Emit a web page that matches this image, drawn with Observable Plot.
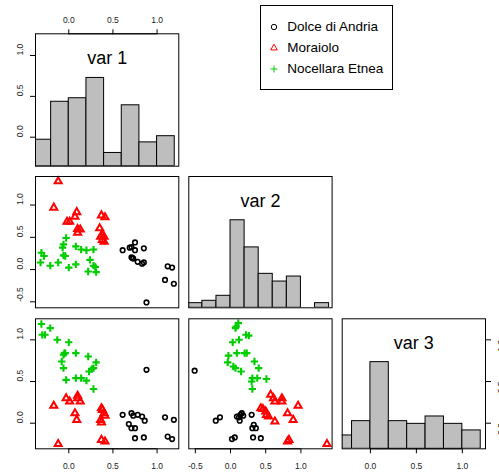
<!DOCTYPE html>
<html><head><meta charset="utf-8">
<script src="https://cdn.jsdelivr.net/npm/d3@7"></script>
<script src="https://cdn.jsdelivr.net/npm/@observablehq/plot@0.6"></script>
<style>
body{margin:0;background:#fff;}
#chart{position:relative;width:499px;height:473px;overflow:hidden;background:#fff;font-family:"Liberation Sans",Arial,Helvetica,sans-serif;}
#chart > svg{position:absolute;left:0;top:0;}
.legend{position:absolute;left:260px;top:5px;width:133px;height:85px;border:1px solid #000;box-sizing:border-box;}
.legend .row{position:absolute;left:0;height:20px;width:130px;}
.legend .row svg{position:absolute;left:8px;top:5px;}
.legend .row span{position:absolute;left:26.3px;top:0;line-height:20px;font-size:13.5px;color:#000;white-space:nowrap;}
</style></head><body><div id="chart"></div>
<script>
// ---------- data ----------
const varNames = ["var 1", "var 2", "var 3"];
const varieties = ["Dolce di Andria", "Moraiolo", "Nocellara Etnea"];
const colors = ["#000000", "#FF0000", "#00CD00"];
const symbols = ["circle", "triangle", "plus"];

// axis ranges (data units)
const var1X = [-0.377, 1.246], var1Y = [-0.355, 1.266];
const var2Range = [-0.593, 1.443];
const var3Range = [-0.307, 1.252];

const ticks1 = [0, 0.5, 1.0];
const ticks2 = [-0.5, 0, 0.5, 1.0];
const ticks3 = [0, 0.5, 1.0];

// histograms (bar height = count / max count)
const hist1Breaks = [-0.4, -0.2, 0, 0.2, 0.4, 0.6, 0.8, 1.0, 1.2];
const hist1Heights = [0.30, 0.73, 0.77, 1.0, 0.15, 0.69, 0.27, 0.34];
const hist2Breaks = [-0.6, -0.4, -0.2, 0, 0.2, 0.4, 0.6, 0.8, 1.0, 1.2, 1.4];
const hist2Heights = [0.053, 0.08, 0.137, 1.0, 0.69, 0.388, 0.30, 0.357, 0, 0.053];
const hist3Breaks = [-0.4, -0.2, 0, 0.2, 0.4, 0.6, 0.8, 1.0, 1.2];
const hist3Heights = [0.154, 0.319, 1.0, 0.319, 0.288, 0.373, 0.288, 0.212];

// var 1 (x) vs var 2 (y)
const dolce12 = [[0.61,0.30],[0.69,0.34],[0.71,0.35],[0.75,0.42],[0.75,0.30],[0.85,0.33],[0.71,0.19],[0.72,0.18],[0.73,0.17],[0.78,0.12],[0.83,0.09],[0.85,0.11],[1.12,0.05],[1.17,0.03],[1.09,-0.16],[1.19,-0.22],[0.88,-0.51]];
const moraiolo12 = [[-0.12,1.37],[-0.17,0.96],[0.09,0.89],[0.07,0.82],[-0.02,0.74],[0.01,0.74],[0.37,0.84],[0.41,0.81],[0.10,0.63],[0.13,0.62],[0.10,0.57],[0.35,0.64],[0.38,0.54],[0.36,0.51],[0.40,0.51],[0.38,0.46],[0.40,0.43]];
const nocellara12 = [[-0.03,0.49],[-0.06,0.39],[-0.07,0.34],[0.08,0.36],[0.14,0.31],[0.20,0.30],[0.28,0.31],[-0.31,0.26],[-0.28,0.21],[-0.06,0.22],[-0.04,0.21],[-0.32,0.11],[-0.21,0.06],[-0.12,0.11],[0.00,0.03],[0.08,0.08],[0.24,0.15],[0.28,0.06],[0.30,0.04],[0.22,-0.03],[0.31,-0.04]];

// var 1 (x) vs var 3 (y)
const dolce13 = [[0.88,0.64],[0.61,0.10],[0.71,0.12],[0.73,0.09],[0.78,0.10],[0.83,0.08],[0.86,0.03],[0.68,-0.01],[0.71,-0.06],[0.75,-0.06],[0.75,-0.18],[0.85,-0.17],[1.09,0.07],[1.19,0.04],[1.12,-0.16],[1.17,-0.19]];
const moraiolo13 = [[-0.03,0.30],[0.01,0.26],[0.10,0.33],[0.10,0.30],[0.13,0.26],[-0.17,0.21],[0.07,0.12],[0.09,0.04],[0.37,0.18],[0.38,0.16],[0.40,0.12],[0.41,0.09],[0.36,0.04],[0.37,0.01],[0.37,-0.20],[0.41,-0.22],[-0.12,-0.25]];
const nocellara13 = [[-0.31,1.19],[-0.21,1.14],[-0.30,1.06],[-0.27,1.06],[-0.13,1.00],[0.00,0.97],[-0.05,0.84],[-0.06,0.82],[-0.04,0.84],[0.08,0.84],[0.22,0.80],[0.31,0.73],[-0.08,0.74],[0.28,0.66],[0.26,0.65],[0.23,0.62],[-0.06,0.66],[-0.03,0.52],[0.08,0.54],[0.14,0.54],[0.20,0.51],[0.28,0.41]];

// var 2 (x) vs var 3 (y)
const dolce23 = [[-0.51,0.63],[-0.21,0.03],[-0.15,0.07],[0.09,0.08],[0.12,0.07],[0.14,0.10],[0.16,0.12],[0.18,0.09],[0.13,0.03],[0.30,0.10],[0.33,-0.02],[0.36,-0.06],[0.31,-0.06],[0.02,-0.19],[0.06,-0.17],[0.32,-0.17],[0.43,-0.18]];
const moraiolo23 = [[0.57,0.34],[0.61,0.30],[0.63,0.26],[0.73,0.30],[0.73,0.26],[0.96,0.21],[0.43,0.18],[0.46,0.17],[0.50,0.14],[0.51,0.10],[0.54,0.08],[0.81,0.12],[0.89,0.04],[0.63,0.02],[0.83,-0.20],[0.81,-0.22],[1.37,-0.25]];
const nocellara23 = [[0.11,1.20],[0.08,1.16],[0.07,1.14],[0.22,1.06],[0.26,1.05],[0.12,1.00],[0.03,0.97],[0.23,0.84],[0.20,0.84],[0.09,0.84],[-0.03,0.81],[-0.04,0.73],[0.04,0.68],[0.07,0.66],[0.15,0.62],[0.34,0.74],[0.40,0.66],[0.31,0.54],[0.38,0.54],[0.51,0.53],[0.30,0.50],[0.31,0.41]];

// ---------- layout ----------
const W = 499, H = 473;
const FONT = '"Liberation Sans", Arial, Helvetica, sans-serif';
const colLeft = [35, 188.3, 341.7], colWidth = 143.3;
const rowTop = [33.3, 176, 318.3], rowHeight = [132.4, 131.3, 130];
const chart = document.getElementById("chart");
const fmt = d => d.toFixed(1);
const TICK = 5, LABEL_FS = 8.5, LABEL_FILL = "#222";

function addPlot(r, c, xDomain, yDomain, marks) {
  const l = colLeft[c], t = rowTop[r];
  const svg = Plot.plot({
    width: W, height: H,
    marginLeft: l, marginRight: W - l - colWidth,
    marginTop: t, marginBottom: H - t - rowHeight[r],
    x: {domain: xDomain, axis: null},
    y: {domain: yDomain, axis: null},
    style: `background: transparent; font-family: ${FONT};`,
    marks
  });
  chart.append(svg);
}

function axisBottom(ticks, yDomain) {
  return [
    Plot.ruleY([yDomain[0]], {x1: ticks[0], x2: ticks[ticks.length - 1], stroke: "black"}),
    Plot.axisX({ticks, anchor: "bottom", tickSize: TICK, tickFormat: () => "", label: null, stroke: "black"}),
    Plot.text(ticks, {x: d => d, frameAnchor: "bottom", dy: 17, text: fmt, fontSize: LABEL_FS, lineAnchor: "middle", fill: LABEL_FILL})
  ];
}
function axisTop(ticks, yDomain) {
  return [
    Plot.ruleY([yDomain[1]], {x1: ticks[0], x2: ticks[ticks.length - 1], stroke: "black"}),
    Plot.axisX({ticks, anchor: "top", tickSize: TICK, tickFormat: () => "", label: null, stroke: "black"}),
    Plot.text(ticks, {x: d => d, frameAnchor: "top", dy: -13.5, text: fmt, fontSize: LABEL_FS, lineAnchor: "middle", fill: LABEL_FILL})
  ];
}
function axisLeft(ticks, xDomain) {
  return [
    Plot.ruleX([xDomain[0]], {y1: ticks[0], y2: ticks[ticks.length - 1], stroke: "black"}),
    Plot.axisY({ticks, anchor: "left", tickSize: TICK, tickFormat: () => "", label: null, stroke: "black"}),
    Plot.text(ticks, {y: d => d, frameAnchor: "left", dx: -15, rotate: -90, text: fmt, fontSize: LABEL_FS, lineAnchor: "middle", fill: LABEL_FILL})
  ];
}
function axisRight(ticks, xDomain) {
  return [
    Plot.ruleX([xDomain[1]], {y1: ticks[0], y2: ticks[ticks.length - 1], stroke: "black"}),
    Plot.axisY({ticks, anchor: "right", tickSize: TICK, tickFormat: () => "", label: null, stroke: "black"}),
    Plot.text(ticks, {y: d => d, frameAnchor: "right", dx: 15.5, rotate: -90, text: fmt, fontSize: LABEL_FS, lineAnchor: "middle", fill: LABEL_FILL})
  ];
}

function scatter(groups) {
  const style = [
    {symbol: "circle", r: 2.3, strokeWidth: 1.6},
    {symbol: "triangle", r: 2.6, strokeWidth: 2.0},
    {symbol: "plus", r: 2.5, strokeWidth: 2.1}
  ];
  return groups.map((g, i) => Plot.dot(g, {x: d => d[0], y: d => d[1], symbol: style[i].symbol, r: style[i].r,
    stroke: colors[i], strokeWidth: style[i].strokeWidth, fill: "none"}));
}

function hist(breaks, heights, name) {
  const bins = heights.map((h, i) => ({x1: breaks[i], x2: breaks[i + 1], h}));
  return [
    Plot.rect(bins, {x1: "x1", x2: "x2", y1: 0, y2: "h", fill: "#BEBEBE", stroke: "black", strokeWidth: 1, inset: 0, clip: true}),
    Plot.text([name], {frameAnchor: "top", dy: 24.5, text: d => d, fontSize: 18, lineAnchor: "middle", fill: "black"}),
    Plot.frame({stroke: "black"})
  ];
}

// ---------- panels ----------
// row 1: histogram of var 1
addPlot(0, 0, var1X, [0, 1.5], [...hist(hist1Breaks, hist1Heights, varNames[0]), ...axisTop(ticks1, [0, 1.5])]);
addPlot(0, 0, var1X, var1Y, [...axisLeft(ticks1, var1X)]);

// row 2
addPlot(1, 0, var1X, var2Range, [...scatter([dolce12, moraiolo12, nocellara12]), Plot.frame({stroke: "black"}), ...axisLeft(ticks2, var1X)]);
addPlot(1, 1, var2Range, [0, 1.5], [...hist(hist2Breaks, hist2Heights, varNames[1])]);

// row 3
addPlot(2, 0, var1X, var3Range, [...scatter([dolce13, moraiolo13, nocellara13]), Plot.frame({stroke: "black"}), ...axisLeft(ticks3, var1X), ...axisBottom(ticks1, var3Range)]);
addPlot(2, 1, var2Range, var3Range, [...scatter([dolce23, moraiolo23, nocellara23]), Plot.frame({stroke: "black"}), ...axisBottom(ticks2, var3Range)]);
addPlot(2, 2, var3Range, [0, 1.5], [...hist(hist3Breaks, hist3Heights, varNames[2]), ...axisBottom(ticks3, [0, 1.5])]);
addPlot(2, 2, var3Range, var3Range, [...axisRight(ticks3, var3Range)]);

// ---------- legend ----------
const legendSymbols = [
  d3.symbol(d3.symbolCircle, Math.PI * 2.7 * 2.7)(),
  d3.symbol(d3.symbolTriangle, 19)(),
  d3.symbol(d3.symbolPlus, 18)()
];
const legend = d3.select(chart).append("div").attr("class", "legend");
varieties.forEach((name, i) => {
  const row = legend.append("div").attr("class", "row").style("top", (10.7 + i * 21.3) + "px");
  const s = row.append("svg").attr("width", 10).attr("height", 10);
  s.append("path").attr("d", legendSymbols[i]).attr("transform", "translate(5,5)")
    .attr("fill", "none").attr("stroke", colors[i]).attr("stroke-width", 1);
  row.append("span").text(name);
});
</script>
</body></html>
